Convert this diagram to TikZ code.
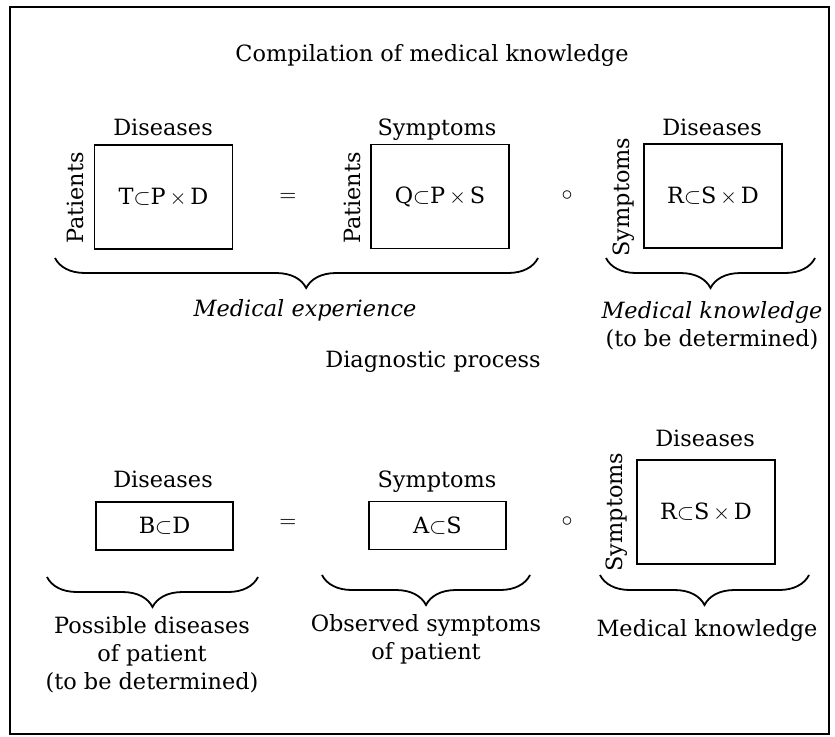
\documentclass[tikz,border=0pt]{standalone}
\usepackage{fontspec}
\setmainfont{DejaVu Serif}
\usetikzlibrary{decorations.pathreplacing}

\begin{document}
\begin{tikzpicture}[x=0.5pt, y=-0.5pt, font=\fontsize{11.2}{14}\selectfont,
      mat/.style={draw, line width=0.9pt, minimum width=69pt, minimum height=52pt, inner sep=0pt},
      vec/.style={draw, line width=0.9pt, minimum width=68.5pt, minimum height=24pt, inner sep=0pt},
      head/.style={anchor=base, inner sep=0pt},
      side/.style={rotate=90, inner sep=0pt},
      brc/.style={decorate, decoration={brace, mirror, amplitude=15pt, aspect=#1}, line width=0.9pt},
      brc/.default=0.5]
  \useasboundingbox (0,0) rectangle (835,736);
  \draw[line width=1pt] (10,7) rectangle (829,734);
  \node (title) at (432,55) {Compilation of medical knowledge};
  % compilation of knowledge
  \node[mat] (tm) at (163.5,197) {T$\subset$P\,$\times$\,D};
  \node[mat] (qm) at (440,196.5) {Q$\subset$P\,$\times$\,S};
  \node[mat] (rm) at (713,196) {R$\subset$S\,$\times$\,D};
  \node[head] (tmtop) at (163,135) {Diseases};
  \node[head] (qmtop) at (437,135) {Symptoms};
  \node[head] (rmtop) at (712,135) {Diseases};
  \node[side] (tmside) at (75,198) {Patients};
  \node[side] (qmside) at (352,198) {Patients};
  \node[side] (rmside) at (624,197) {Symptoms};
  \node (eqa) at (288,197) {$=$};
  \node (opa) at (567,196) {$\circ$};
  \coordinate (ba1) at (55,258); \coordinate (ba2) at (538,258);
  \coordinate (bb1) at (606,258); \coordinate (bb2) at (815,258);
  \draw[brc=0.52] (ba1) -- (ba2);
  \draw[brc] (bb1) -- (bb2);
  \node (exp) at (305,310) {\itshape Medical experience};
  \node[align=center] (know) at (712,326) {{\itshape Medical knowledge}\\(to be determined)};
  \node (diag) at (433,362) {Diagnostic process};
  % diagnosis
  \node[vec] (bv) at (164.5,526) {B$\subset$D};
  \node[vec] (av) at (437.5,525.5) {A$\subset$S};
  \node[mat] (rm2) at (706,512) {R$\subset$S\,$\times$\,D};
  \node[head] (bvtop) at (163,487) {Diseases};
  \node[head] (avtop) at (437,487) {Symptoms};
  \node[head] (rm2top) at (705,446) {Diseases};
  \node[side] (rm2side) at (617,512) {Symptoms};
  \node (eqb) at (288,523) {$=$};
  \node (opb) at (567,522) {$\circ$};
  \coordinate (bc1) at (47,577); \coordinate (bc2) at (258,577);
  \coordinate (bd1) at (322,575); \coordinate (bd2) at (530,575);
  \coordinate (be1) at (600,575); \coordinate (be2) at (809,575);
  \draw[brc] (bc1) -- (bc2);
  \draw[brc] (bd1) -- (bd2);
  \draw[brc] (be1) -- (be2);
  \node[align=center] (poss) at (152,655) {Possible diseases\\of patient\\(to be determined)};
  \node[align=center] (obs) at (426,639) {Observed symptoms\\of patient};
  \node (know2) at (707,630) {Medical knowledge};
\end{tikzpicture}
\end{document}
